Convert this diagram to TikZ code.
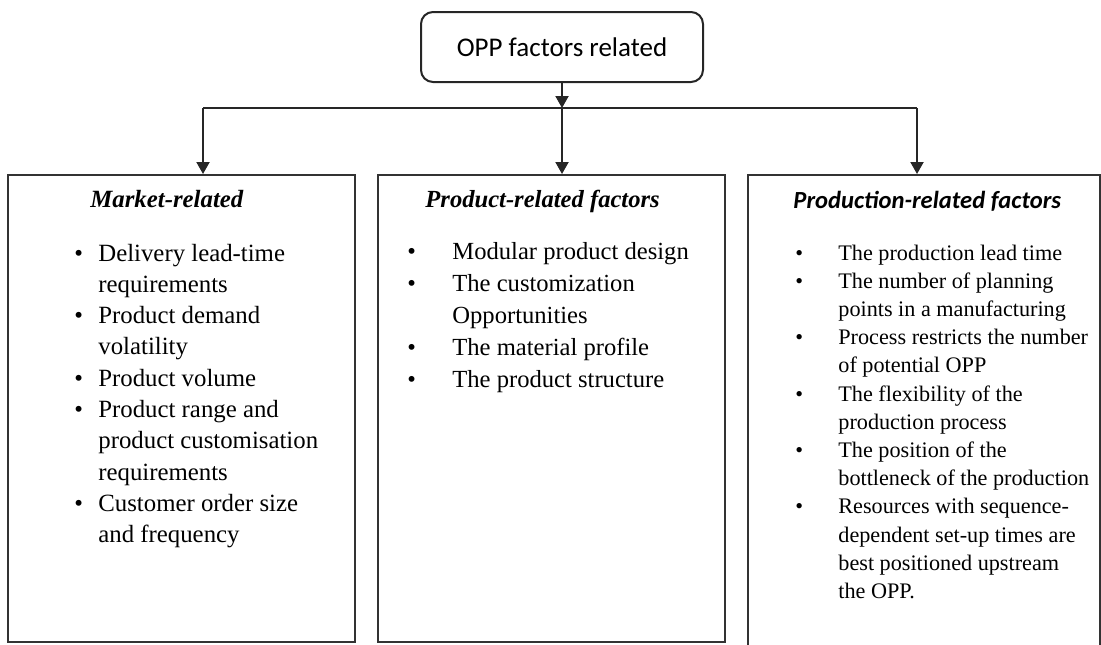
\documentclass[tikz,border=0pt]{standalone}
\usepackage{fontspec}
\setmainfont{Liberation Serif}
\newfontfamily\carlito{Carlito}
\usetikzlibrary{arrows.meta}
% one bullet item: #1 = hang indent, #2 = text
\newcommand{\fitem}[2]{\par\hangindent=#1\hangafter=1\noindent\makebox[#1][l]{\textbullet}#2}
% list of items, first baseline on the node's base
\newenvironment{factorlist}{\begin{minipage}[t]{170pt}\raggedright}{\end{minipage}}
\begin{document}
\begin{tikzpicture}[x=0.5pt, y=-0.5pt,
  line/.style={line width=1pt, black!85},
  conn/.style={line, -{Triangle[length=6pt, width=6.5pt]}},
  factorbox/.style={draw=black!80, line width=1pt, inner sep=0pt},
  heading/.style={anchor=base west, inner sep=0pt},
  itemlist/.style={anchor=base west, inner sep=0pt}]
\useasboundingbox (0,0) rectangle (1101,644);
% top box
\node[draw=black!85, line width=1pt, rounded corners=6pt, minimum width=141pt,
  minimum height=35pt, font=\carlito\fontsize{13.5pt}{16pt}\selectfont] (opp) at (562,47) {OPP factors related};
% the three factor boxes
\node[factorbox, minimum width=173.5pt, minimum height=233.5pt] (market) at (181.5,408.5) {};
\node[factorbox, minimum width=173.5pt, minimum height=233.5pt] (product) at (551.5,408.5) {};
\node[factorbox, minimum width=176pt, minimum height=237.5pt] (production) at (924,412.5) {};
% connectors
\coordinate (hub) at (562,108);
\coordinate (lft) at (203,108);
\coordinate (rgt) at (917,108);
\draw[conn] (opp.south) -- (opp.south |- hub);
\draw[line] (lft) -- (rgt);
\draw[conn] (lft) -- (lft |- market.north);
\draw[conn] (hub) -- (hub |- product.north);
\draw[conn] (rgt) -- (rgt |- production.north);
% market-related
\node[heading, font=\fontsize{12.4pt}{15.6pt}\selectfont\bfseries\itshape] (mkthead) at (90,207) {Market-related};
\node[itemlist, font=\fontsize{12.4pt}{15.65pt}\selectfont] (mktlist) at (74,261) {\begin{factorlist}
\fitem{12pt}{Delivery lead-time\newline requirements}
\fitem{12pt}{Product demand\newline volatility}
\fitem{12pt}{Product volume}
\fitem{12pt}{Product range and\newline product customisation\newline requirements}
\fitem{12pt}{Customer order size\newline and frequency}
\end{factorlist}};
% product-related
\node[heading, font=\fontsize{12.3pt}{15.6pt}\selectfont\bfseries\itshape] (prdhead) at (425,207) {Product-related factors};
\node[itemlist, font=\fontsize{12.3pt}{16.1pt}\selectfont] (prdlist) at (407,259) {\begin{factorlist}
\fitem{22.5pt}{Modular product design}
\fitem{22.5pt}{The customization\newline Opportunities}
\fitem{22.5pt}{The material profile}
\fitem{22.5pt}{The product structure}
\end{factorlist}};
% production-related
\node[heading, font=\carlito\fontsize{12.3pt}{15.6pt}\selectfont\bfseries\itshape] (prnhead) at (793,208) {Production-related factors};
\node[itemlist, font=\fontsize{11.1pt}{14.1pt}\selectfont] (prnlist) at (795,260) {\begin{factorlist}
\fitem{21.5pt}{The production lead time}
\fitem{21.5pt}{The number of planning\newline points in a manufacturing}
\fitem{21.5pt}{Process restricts the number\newline of potential OPP}
\fitem{21.5pt}{The flexibility of the\newline production process}
\fitem{21.5pt}{The position of the\newline bottleneck of the production}
\fitem{21.5pt}{Resources with sequence-\newline dependent set-up times are\newline best positioned upstream\newline the OPP.}
\end{factorlist}};
\end{tikzpicture}
\end{document}
